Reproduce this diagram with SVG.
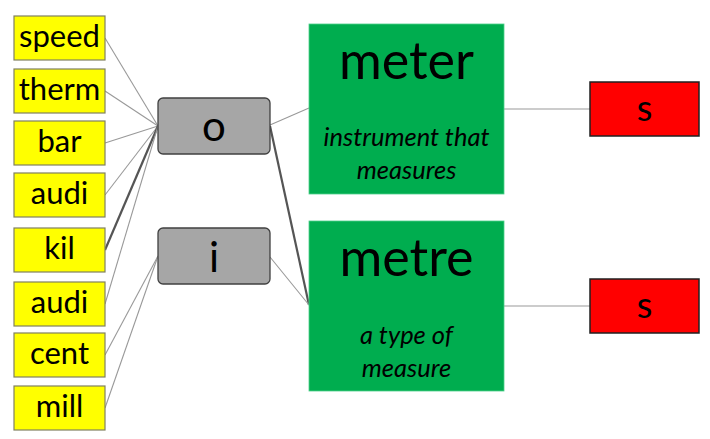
<svg xmlns="http://www.w3.org/2000/svg" width="710" height="439" viewBox="0 0 710 439">
<style>
text{font-family:Lato,"Open Sans","Liberation Sans",sans-serif;fill:#000;text-anchor:middle}
.y rect{fill:#ffff00;stroke:#808060;stroke-width:1.2}
.y text{font-size:31px}
.g rect{fill:#a6a6a6;stroke:#404040;stroke-width:1.3}
.g text{font-size:42px}
.m rect{fill:#00ad4f;stroke:#4dd08a;stroke-width:0.8}
.m .t{font-size:52px}
.m .d{font-size:25.5px;font-style:italic}
.r rect{fill:#ff0000;stroke:#202020;stroke-width:1.5}
.r text{font-size:36px}
.c line{stroke:#999;stroke-width:1.1}
.c line.k{stroke:#555;stroke-width:2.2}
</style>
<g class="c">
<line x1="105" y1="38" x2="158" y2="126"/>
<line x1="105" y1="91" x2="158" y2="126"/>
<line x1="105" y1="143" x2="158" y2="126"/>
<line x1="105" y1="195" x2="158" y2="126"/>
<line class="k" x1="105" y1="250" x2="158" y2="126"/>
<line x1="105" y1="304" x2="158" y2="126"/>
<line x1="105" y1="355" x2="158" y2="256"/>
<line x1="105" y1="408" x2="158" y2="256"/>
<line x1="270" y1="125" x2="309" y2="108"/>
<line class="k" x1="270" y1="126" x2="309" y2="305"/>
<line x1="270" y1="257" x2="309" y2="305"/>
<line x1="504" y1="109" x2="590" y2="109"/>
<line x1="504" y1="306" x2="590" y2="306"/>
</g>
<g id="speed" class="y"><rect x="14" y="16" width="91" height="44"/><text x="59.5" y="47">speed</text></g>
<g id="therm" class="y"><rect x="14" y="69" width="91" height="44"/><text x="59.5" y="100">therm</text></g>
<g id="bar" class="y"><rect x="14" y="121" width="91" height="44"/><text x="59.5" y="152">bar</text></g>
<g id="audi1" class="y"><rect x="14" y="173" width="91" height="44"/><text x="59.5" y="204">audi</text></g>
<g id="kil" class="y"><rect x="14" y="228" width="91" height="44"/><text x="59.5" y="259">kil</text></g>
<g id="audi2" class="y"><rect x="14" y="282" width="91" height="44"/><text x="59.5" y="313">audi</text></g>
<g id="cent" class="y"><rect x="14" y="333" width="91" height="44"/><text x="59.5" y="364">cent</text></g>
<g id="mill" class="y"><rect x="14" y="386" width="91" height="44"/><text x="59.5" y="417">mill</text></g>
<g id="o" class="g"><rect x="158" y="98" width="112" height="56" rx="5"/><text x="214" y="141">o</text></g>
<g id="i" class="g"><rect x="158" y="228" width="112" height="56" rx="5"/><text x="214" y="272">i</text></g>
<g id="meter" class="m"><rect x="309" y="24" width="195" height="170"/><text class="t" x="406.5" y="79">meter</text><text class="d" x="406.5" y="146">instrument that</text><text class="d" x="406.5" y="179">measures</text></g>
<g id="metre" class="m"><rect x="309" y="221" width="195" height="170"/><text class="t" x="406.5" y="276">metre</text><text class="d" x="406.5" y="344">a type of</text><text class="d" x="406.5" y="377">measure</text></g>
<g id="s1" class="r"><rect x="590" y="82" width="109" height="54"/><text x="644.5" y="121">s</text></g>
<g id="s2" class="r"><rect x="590" y="279" width="109" height="54"/><text x="644.5" y="318">s</text></g>
</svg>
